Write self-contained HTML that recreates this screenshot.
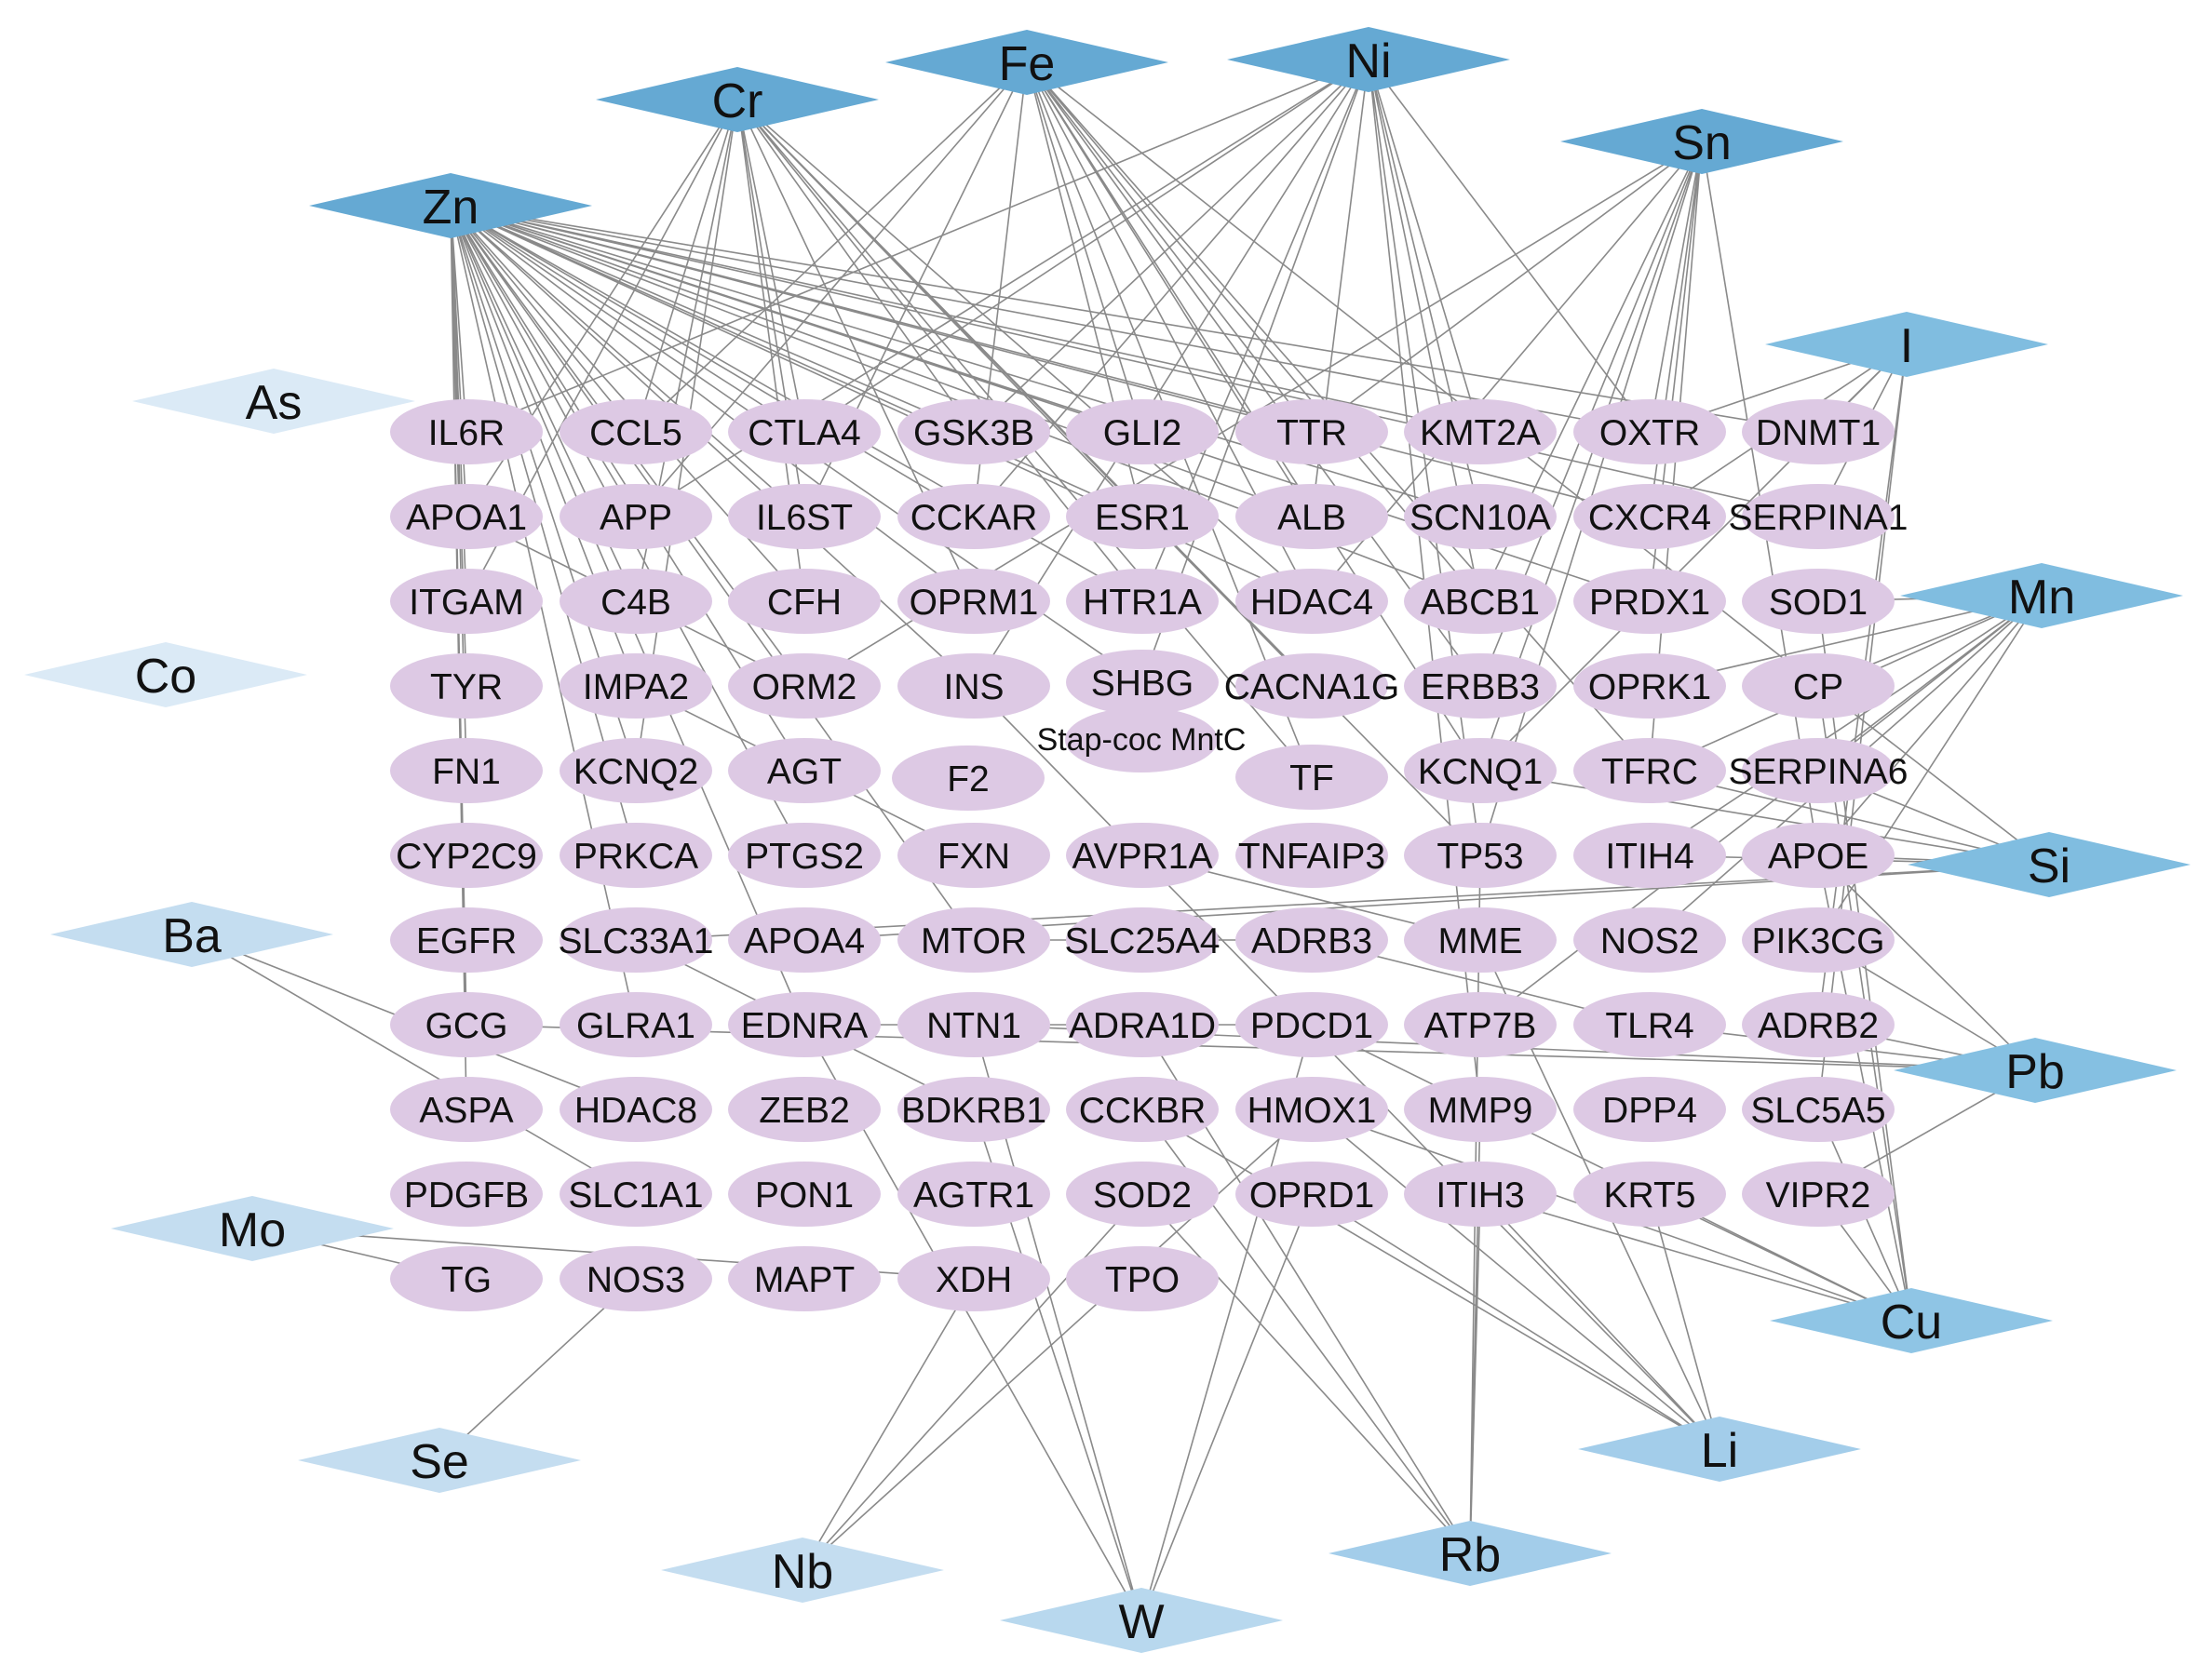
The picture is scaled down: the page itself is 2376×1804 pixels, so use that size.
<!DOCTYPE html>
<html><head><meta charset="utf-8"><style>
html,body{margin:0;padding:0;background:#fff}
svg{display:block}
text{font-family:"Liberation Sans",Arial,sans-serif;text-anchor:middle;fill:#111}
.g{font-size:39px}
.d{font-size:52px}
</style></head><body>
<svg width="2376" height="1804" viewBox="0 0 2376 1804" xmlns="http://www.w3.org/2000/svg">
<g stroke="#8a8a8a" stroke-width="1.6" fill="none">
<path d="M484 221L501 464M484 221L501 555M484 221L501 646M484 221L501 737M484 221L501 828M484 221L501 1101M484 221L501 1192M484 221L683 464M484 221L683 555M484 221L683 646M484 221L683 737M484 221L683 828M484 221L683 919M484 221L683 1101M484 221L864 464M484 221L864 555M484 221L864 646M484 221L864 737M484 221L864 828M484 221L864 919M484 221L864 1101M484 221L1046 464M484 221L1046 555M484 221L1046 646M484 221L1046 737M484 221L1227 464M484 221L1227 555M484 221L1227 646M484 221L1409 464M484 221L1409 555M484 221L1409 646M484 221L1590 464M484 221L1590 555M484 221L1772 464M484 221L1772 555M484 221L1953 464M484 221L1953 555M484 221L1590 646M484 221L1772 646M484 221L1046 1010M484 221L1227 733"/>
<path d="M792 107L501 555M792 107L683 464M792 107L683 646M792 107L864 464M792 107L864 555M792 107L864 646M792 107L1046 464M792 107L1046 646M792 107L1227 555M792 107L1227 646M792 107L1409 646M792 107L1409 737M792 107L1409 835M792 107L1590 919M792 107L683 828M792 107L501 646"/>
<path d="M1103 67L864 555M1103 67L1046 555M1103 67L1227 464M1103 67L1227 555M1103 67L1409 464M1103 67L1409 555M1103 67L1409 646M1103 67L1590 646M1103 67L1590 737M1103 67L1772 828M1103 67L1953 737M1103 67L1409 835M1103 67L1590 828M1103 67L683 555M1103 67L683 464"/>
<path d="M1470 64L501 464M1470 64L683 555M1470 64L864 464M1470 64L1046 464M1470 64L1046 555M1470 64L1046 737M1470 64L1227 646M1470 64L1409 555M1470 64L1590 464M1470 64L1590 555M1470 64L1590 646M1470 64L1590 1192M1470 64L1590 919M1470 64L1772 464M1470 64L1227 733"/>
<path d="M1828 152L1772 464M1828 152L1772 555M1828 152L1590 646M1828 152L1590 737M1828 152L1590 828M1828 152L1590 919M1828 152L1409 646M1828 152L1409 464M1828 152L864 737M1828 152L1772 646M1828 152L1772 828M1828 152L1953 919"/>
<path d="M2048 370L1772 464M2048 370L1953 464M2048 370L1953 555M2048 370L1772 555M2048 370L1772 646M2048 370L1953 1101M2048 370L1953 1192M2048 370L1590 828"/>
<path d="M2193 640L1953 646M2193 640L1953 737M2193 640L1772 828M2193 640L1590 1101M2193 640L1953 919M2193 640L1772 737M2193 640L1772 919M2193 640L1953 1010M2193 640L1953 828M2193 640L1772 1010"/>
<path d="M2201 929L1953 737M2201 929L1953 828M2201 929L1772 828M2201 929L1772 919M2201 929L864 1010M2201 929L683 1010M2201 929L1590 828M2201 929L1953 919"/>
<path d="M2186 1150L1953 1010M2186 1150L1772 1101M2186 1150L1953 1101M2186 1150L1953 1283M2186 1150L1953 919M2186 1150L501 1101M2186 1150L1046 1101"/>
<path d="M2053 1419L1953 646M2053 1419L1953 737M2053 1419L1953 919M2053 1419L1953 1192M2053 1419L1953 1283M2053 1419L1772 1283M2053 1419L1590 1283M2053 1419L1409 1101M2053 1419L1409 1192"/>
<path d="M1847 1557L1772 1283M1847 1557L1590 1283M1847 1557L1409 1283M1847 1557L1590 1010M1847 1557L1046 737M1847 1557L1227 1192M1847 1557L1409 1192"/>
<path d="M1579 1669L1590 1283M1579 1669L1227 1283M1579 1669L1227 1192M1579 1669L1227 1101M1579 1669L1590 919M1579 1669L1590 1192"/>
<path d="M1226 1741L1409 1283M1226 1741L1046 1101M1226 1741L1046 1192M1226 1741L864 1101M1226 1741L1409 1101"/>
<path d="M862 1687L1046 1374M862 1687L1409 1192M862 1687L1227 1283"/>
<path d="M472 1569L683 1374M271 1320L1046 1374M271 1320L501 1374M206 1004L683 1283M206 1004L683 1192"/>
<path d="M501 555L864 737M683 737L1046 919M864 1101L1409 1101M1046 1010L1409 1010M1227 919L1590 1010M1409 1010L1772 1101M683 1010L1046 1192"/>
</g>
<g fill="#ddc9e4">
<ellipse cx="1226" cy="795" rx="82" ry="35"/>
<ellipse cx="501" cy="464" rx="82" ry="35"/><ellipse cx="683" cy="464" rx="82" ry="35"/><ellipse cx="864" cy="464" rx="82" ry="35"/><ellipse cx="1046" cy="464" rx="82" ry="35"/><ellipse cx="1227" cy="464" rx="82" ry="35"/><ellipse cx="1409" cy="464" rx="82" ry="35"/><ellipse cx="1590" cy="464" rx="82" ry="35"/><ellipse cx="1772" cy="464" rx="82" ry="35"/><ellipse cx="1953" cy="464" rx="82" ry="35"/>
<ellipse cx="501" cy="555" rx="82" ry="35"/><ellipse cx="683" cy="555" rx="82" ry="35"/><ellipse cx="864" cy="555" rx="82" ry="35"/><ellipse cx="1046" cy="555" rx="82" ry="35"/><ellipse cx="1227" cy="555" rx="82" ry="35"/><ellipse cx="1409" cy="555" rx="82" ry="35"/><ellipse cx="1590" cy="555" rx="82" ry="35"/><ellipse cx="1772" cy="555" rx="82" ry="35"/><ellipse cx="1953" cy="555" rx="82" ry="35"/>
<ellipse cx="501" cy="646" rx="82" ry="35"/><ellipse cx="683" cy="646" rx="82" ry="35"/><ellipse cx="864" cy="646" rx="82" ry="35"/><ellipse cx="1046" cy="646" rx="82" ry="35"/><ellipse cx="1227" cy="646" rx="82" ry="35"/><ellipse cx="1409" cy="646" rx="82" ry="35"/><ellipse cx="1590" cy="646" rx="82" ry="35"/><ellipse cx="1772" cy="646" rx="82" ry="35"/><ellipse cx="1953" cy="646" rx="82" ry="35"/>
<ellipse cx="501" cy="737" rx="82" ry="35"/><ellipse cx="683" cy="737" rx="82" ry="35"/><ellipse cx="864" cy="737" rx="82" ry="35"/><ellipse cx="1046" cy="737" rx="82" ry="35"/><ellipse cx="1227" cy="733" rx="82" ry="35"/><ellipse cx="1409" cy="737" rx="82" ry="35"/><ellipse cx="1590" cy="737" rx="82" ry="35"/><ellipse cx="1772" cy="737" rx="82" ry="35"/><ellipse cx="1953" cy="737" rx="82" ry="35"/>
<ellipse cx="501" cy="828" rx="82" ry="35"/><ellipse cx="683" cy="828" rx="82" ry="35"/><ellipse cx="864" cy="828" rx="82" ry="35"/><ellipse cx="1040" cy="836" rx="82" ry="35"/><ellipse cx="1409" cy="835" rx="82" ry="35"/><ellipse cx="1590" cy="828" rx="82" ry="35"/><ellipse cx="1772" cy="828" rx="82" ry="35"/><ellipse cx="1953" cy="828" rx="82" ry="35"/>
<ellipse cx="501" cy="919" rx="82" ry="35"/><ellipse cx="683" cy="919" rx="82" ry="35"/><ellipse cx="864" cy="919" rx="82" ry="35"/><ellipse cx="1046" cy="919" rx="82" ry="35"/><ellipse cx="1227" cy="919" rx="82" ry="35"/><ellipse cx="1409" cy="919" rx="82" ry="35"/><ellipse cx="1590" cy="919" rx="82" ry="35"/><ellipse cx="1772" cy="919" rx="82" ry="35"/><ellipse cx="1953" cy="919" rx="82" ry="35"/>
<ellipse cx="501" cy="1010" rx="82" ry="35"/><ellipse cx="683" cy="1010" rx="82" ry="35"/><ellipse cx="864" cy="1010" rx="82" ry="35"/><ellipse cx="1046" cy="1010" rx="82" ry="35"/><ellipse cx="1227" cy="1010" rx="82" ry="35"/><ellipse cx="1409" cy="1010" rx="82" ry="35"/><ellipse cx="1590" cy="1010" rx="82" ry="35"/><ellipse cx="1772" cy="1010" rx="82" ry="35"/><ellipse cx="1953" cy="1010" rx="82" ry="35"/>
<ellipse cx="501" cy="1101" rx="82" ry="35"/><ellipse cx="683" cy="1101" rx="82" ry="35"/><ellipse cx="864" cy="1101" rx="82" ry="35"/><ellipse cx="1046" cy="1101" rx="82" ry="35"/><ellipse cx="1227" cy="1101" rx="82" ry="35"/><ellipse cx="1409" cy="1101" rx="82" ry="35"/><ellipse cx="1590" cy="1101" rx="82" ry="35"/><ellipse cx="1772" cy="1101" rx="82" ry="35"/><ellipse cx="1953" cy="1101" rx="82" ry="35"/>
<ellipse cx="501" cy="1192" rx="82" ry="35"/><ellipse cx="683" cy="1192" rx="82" ry="35"/><ellipse cx="864" cy="1192" rx="82" ry="35"/><ellipse cx="1046" cy="1192" rx="82" ry="35"/><ellipse cx="1227" cy="1192" rx="82" ry="35"/><ellipse cx="1409" cy="1192" rx="82" ry="35"/><ellipse cx="1590" cy="1192" rx="82" ry="35"/><ellipse cx="1772" cy="1192" rx="82" ry="35"/><ellipse cx="1953" cy="1192" rx="82" ry="35"/>
<ellipse cx="501" cy="1283" rx="82" ry="35"/><ellipse cx="683" cy="1283" rx="82" ry="35"/><ellipse cx="864" cy="1283" rx="82" ry="35"/><ellipse cx="1046" cy="1283" rx="82" ry="35"/><ellipse cx="1227" cy="1283" rx="82" ry="35"/><ellipse cx="1409" cy="1283" rx="82" ry="35"/><ellipse cx="1590" cy="1283" rx="82" ry="35"/><ellipse cx="1772" cy="1283" rx="82" ry="35"/><ellipse cx="1953" cy="1283" rx="82" ry="35"/>
<ellipse cx="501" cy="1374" rx="82" ry="35"/><ellipse cx="683" cy="1374" rx="82" ry="35"/><ellipse cx="864" cy="1374" rx="82" ry="35"/><ellipse cx="1046" cy="1374" rx="82" ry="35"/><ellipse cx="1227" cy="1374" rx="82" ry="35"/>
</g>
<g class="g">
<text x="501" y="478">IL6R</text><text x="683" y="478">CCL5</text><text x="864" y="478">CTLA4</text><text x="1046" y="478">GSK3B</text><text x="1227" y="478">GLI2</text><text x="1409" y="478">TTR</text><text x="1590" y="478">KMT2A</text><text x="1772" y="478">OXTR</text><text x="1953" y="478">DNMT1</text>
<text x="501" y="569">APOA1</text><text x="683" y="569">APP</text><text x="864" y="569">IL6ST</text><text x="1046" y="569">CCKAR</text><text x="1227" y="569">ESR1</text><text x="1409" y="569">ALB</text><text x="1590" y="569">SCN10A</text><text x="1772" y="569">CXCR4</text><text x="1953" y="569">SERPINA1</text>
<text x="501" y="660">ITGAM</text><text x="683" y="660">C4B</text><text x="864" y="660">CFH</text><text x="1046" y="660">OPRM1</text><text x="1227" y="660">HTR1A</text><text x="1409" y="660">HDAC4</text><text x="1590" y="660">ABCB1</text><text x="1772" y="660">PRDX1</text><text x="1953" y="660">SOD1</text>
<text x="501" y="751">TYR</text><text x="683" y="751">IMPA2</text><text x="864" y="751">ORM2</text><text x="1046" y="751">INS</text><text x="1227" y="747">SHBG</text><text x="1409" y="751">CACNA1G</text><text x="1590" y="751">ERBB3</text><text x="1772" y="751">OPRK1</text><text x="1953" y="751">CP</text>
<text x="501" y="842">FN1</text><text x="683" y="842">KCNQ2</text><text x="864" y="842">AGT</text><text x="1040" y="850">F2</text><text x="1409" y="849">TF</text><text x="1590" y="842">KCNQ1</text><text x="1772" y="842">TFRC</text><text x="1953" y="842">SERPINA6</text>
<text x="501" y="933">CYP2C9</text><text x="683" y="933">PRKCA</text><text x="864" y="933">PTGS2</text><text x="1046" y="933">FXN</text><text x="1227" y="933">AVPR1A</text><text x="1409" y="933">TNFAIP3</text><text x="1590" y="933">TP53</text><text x="1772" y="933">ITIH4</text><text x="1953" y="933">APOE</text>
<text x="501" y="1024">EGFR</text><text x="683" y="1024">SLC33A1</text><text x="864" y="1024">APOA4</text><text x="1046" y="1024">MTOR</text><text x="1227" y="1024">SLC25A4</text><text x="1409" y="1024">ADRB3</text><text x="1590" y="1024">MME</text><text x="1772" y="1024">NOS2</text><text x="1953" y="1024">PIK3CG</text>
<text x="501" y="1115">GCG</text><text x="683" y="1115">GLRA1</text><text x="864" y="1115">EDNRA</text><text x="1046" y="1115">NTN1</text><text x="1227" y="1115">ADRA1D</text><text x="1409" y="1115">PDCD1</text><text x="1590" y="1115">ATP7B</text><text x="1772" y="1115">TLR4</text><text x="1953" y="1115">ADRB2</text>
<text x="501" y="1206">ASPA</text><text x="683" y="1206">HDAC8</text><text x="864" y="1206">ZEB2</text><text x="1046" y="1206">BDKRB1</text><text x="1227" y="1206">CCKBR</text><text x="1409" y="1206">HMOX1</text><text x="1590" y="1206">MMP9</text><text x="1772" y="1206">DPP4</text><text x="1953" y="1206">SLC5A5</text>
<text x="501" y="1297">PDGFB</text><text x="683" y="1297">SLC1A1</text><text x="864" y="1297">PON1</text><text x="1046" y="1297">AGTR1</text><text x="1227" y="1297">SOD2</text><text x="1409" y="1297">OPRD1</text><text x="1590" y="1297">ITIH3</text><text x="1772" y="1297">KRT5</text><text x="1953" y="1297">VIPR2</text>
<text x="501" y="1388">TG</text><text x="683" y="1388">NOS3</text><text x="864" y="1388">MAPT</text><text x="1046" y="1388">XDH</text><text x="1227" y="1388">TPO</text>
</g>
<text x="1226" y="806" style="font-size:34px">Stap-coc MntC</text>
<g>
<polygon points="332,221 484,186 636,221 484,256" fill="#65a9d3"/>
<polygon points="640,107 792,72 944,107 792,142" fill="#65a9d3"/>
<polygon points="951,67 1103,32 1255,67 1103,102" fill="#65a9d3"/>
<polygon points="1318,64 1470,29 1622,64 1470,99" fill="#65a9d3"/>
<polygon points="1676,152 1828,117 1980,152 1828,187" fill="#65a9d3"/>
<polygon points="1896,370 2048,335 2200,370 2048,405" fill="#80bde0"/>
<polygon points="2041,640 2193,605 2345,640 2193,675" fill="#80bde0"/>
<polygon points="2049,929 2201,894 2353,929 2201,964" fill="#80bde0"/>
<polygon points="2034,1150 2186,1115 2338,1150 2186,1185" fill="#85c0e2"/>
<polygon points="1901,1419 2053,1384 2205,1419 2053,1454" fill="#8fc5e5"/>
<polygon points="1695,1557 1847,1522 1999,1557 1847,1592" fill="#a3cdea"/>
<polygon points="1427,1669 1579,1634 1731,1669 1579,1704" fill="#a3cdea"/>
<polygon points="1074,1741 1226,1706 1378,1741 1226,1776" fill="#b8d8ee"/>
<polygon points="710,1687 862,1652 1014,1687 862,1722" fill="#c4ddf0"/>
<polygon points="320,1569 472,1534 624,1569 472,1604" fill="#c4ddf0"/>
<polygon points="119,1320 271,1285 423,1320 271,1355" fill="#c4ddf0"/>
<polygon points="54,1004 206,969 358,1004 206,1039" fill="#c4ddf0"/>
<polygon points="26,725 178,690 330,725 178,760" fill="#dbeaf6"/>
<polygon points="142,431 294,396 446,431 294,466" fill="#dbeaf6"/>
</g>
<g class="d">
<text x="484" y="240">Zn</text><text x="792" y="126">Cr</text><text x="1103" y="86">Fe</text><text x="1470" y="83">Ni</text><text x="1828" y="171">Sn</text>
<text x="2048" y="389">I</text><text x="2193" y="659">Mn</text><text x="2201" y="948">Si</text><text x="2186" y="1169">Pb</text><text x="2053" y="1438">Cu</text>
<text x="1847" y="1576">Li</text><text x="1579" y="1688">Rb</text><text x="1226" y="1760">W</text><text x="862" y="1706">Nb</text><text x="472" y="1588">Se</text>
<text x="271" y="1339">Mo</text><text x="206" y="1023">Ba</text><text x="178" y="744">Co</text><text x="294" y="450">As</text>
</g>
</svg>
</body></html>
